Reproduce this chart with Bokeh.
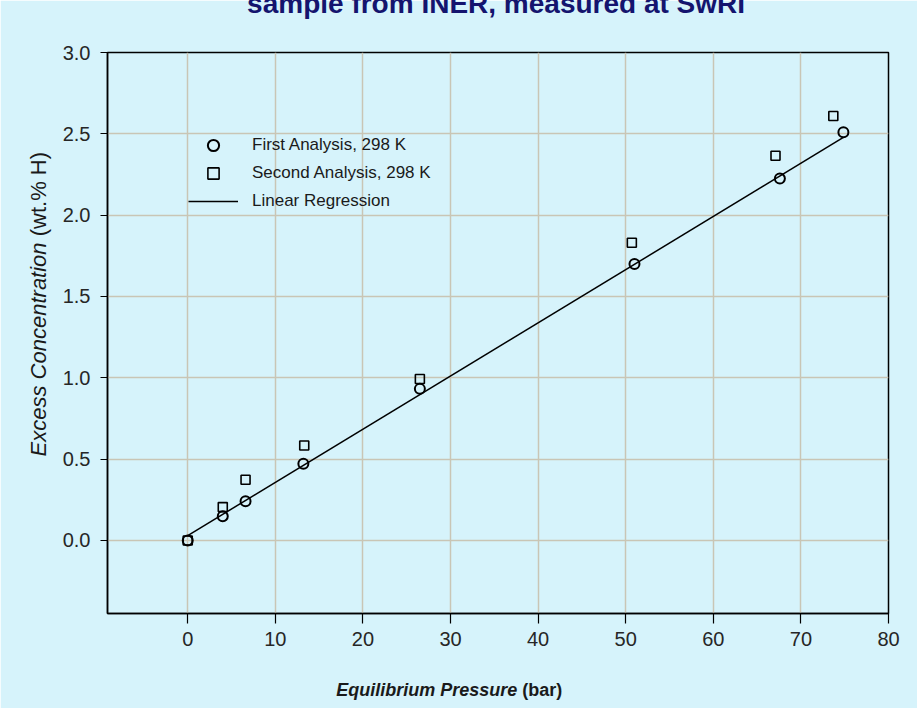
import math
from bokeh.plotting import figure
from bokeh.models import Label, Legend, LegendItem, FixedTicker
from bokeh.embed import file_html
from bokeh.resources import INLINE

# ---- data ----
pressure_first = [0.0, 4.0, 6.6, 13.2, 26.5, 51.0, 67.6, 74.85]
conc_first = [0.0, 0.149, 0.241, 0.471, 0.932, 1.70, 2.225, 2.51]
pressure_second = [0.0, 4.0, 6.6, 13.3, 26.5, 50.7, 67.1, 73.7]
conc_second = [0.0, 0.205, 0.373, 0.584, 0.993, 1.83, 2.365, 2.61]
fit_intercept = 0.03
fit_slope = 0.0327
x_ticks = [0, 10, 20, 30, 40, 50, 60, 70, 80]
y_ticks = [0.0, 0.5, 1.0, 1.5, 2.0, 2.5, 3.0]
title_text = "sample from INER, measured at SwRI"
legend_labels = ["First Analysis, 298 K", "Second Analysis, 298 K", "Linear Regression"]

BG = "#d6f3fb"
GRID = "#c9c5b5"
FONT = "Liberation Sans"

p = figure(width=917, height=708, output_backend="svg", toolbar_location=None,
           x_range=(-9.16, 80), y_range=(-0.449, 3.0),
           min_border_left=107, min_border_right=29, min_border_top=52, min_border_bottom=95)
p.background_fill_color = BG
p.border_fill_color = BG
p.outline_line_color = "black"
p.outline_line_width = 1.5

for ax in (p.xaxis[0], p.yaxis[0]):
    ax.axis_line_color = "black"
    ax.axis_line_width = 1.5
    ax.major_tick_line_color = "black"
    ax.major_tick_line_width = 1.2
    ax.minor_tick_line_color = None
    ax.major_tick_in = 0
    ax.major_label_text_font = FONT
    ax.major_label_text_font_size = "20px"
    ax.major_label_text_color = "#262626"

p.xaxis[0].ticker = FixedTicker(ticks=x_ticks)
p.yaxis[0].ticker = FixedTicker(ticks=y_ticks)
p.xaxis[0].major_tick_out = 10
p.yaxis[0].major_tick_out = 7
p.xaxis[0].major_label_standoff = 8
p.yaxis[0].major_label_standoff = 10
p.yaxis[0].major_label_overrides = {t: f"{t:.1f}" for t in y_ticks}

p.xgrid.ticker = FixedTicker(ticks=x_ticks)
p.ygrid.ticker = FixedTicker(ticks=y_ticks)
p.xgrid.grid_line_color = GRID
p.ygrid.grid_line_color = GRID
p.xgrid.grid_line_width = 1.5
p.ygrid.grid_line_width = 1.5

# regression line over the data's pressure span
x_fit = [min(pressure_first), max(pressure_first)]
y_fit = [fit_intercept + fit_slope * x for x in x_fit]
r_line = p.line(x_fit, y_fit, line_color="black", line_width=1.5)

r_sq = p.scatter(pressure_second, conc_second, marker="square", size=9,
                 line_color="black", line_width=1.6, fill_color=None)
r_c = p.scatter(pressure_first, conc_first, marker="circle", size=10,
                line_color="black", line_width=2.0, fill_color=None)

legend = Legend(items=[LegendItem(label=legend_labels[0], renderers=[r_c]),
                       LegendItem(label=legend_labels[1], renderers=[r_sq]),
                       LegendItem(label=legend_labels[2], renderers=[r_line])],
                location=(81, 398), orientation="vertical")
legend.background_fill_alpha = 0
legend.border_line_color = None
legend.padding = 0
legend.margin = 0
legend.spacing = 0
legend.glyph_width = 50
legend.glyph_height = 28
legend.label_height = 28
legend.label_standoff = 14
legend.label_text_font = FONT
legend.label_text_font_size = "17px"
legend.label_text_color = "#1a1a1a"
p.add_layout(legend)

# axis titles with mixed styles, placed in the side panels
ylab_x = -17.0
ylab_y = 1.87
p.add_layout(Label(x=ylab_x, y=ylab_y, text="Excess Concentration ", angle=math.pi / 2,
                   text_align="right", text_baseline="middle", text_font=FONT,
                   text_font_style="italic", text_font_size="22px", text_color="#1a1a1a"), "left")
p.add_layout(Label(x=ylab_x, y=ylab_y, text="(wt.% H)", angle=math.pi / 2,
                   text_align="left", text_baseline="middle", text_font=FONT,
                   text_font_size="22px", text_color="#1a1a1a"), "left")

xlab_x = 38.2
xlab_y = -0.92
p.add_layout(Label(x=xlab_x, y=xlab_y, text="Equilibrium Pressure ",
                   text_align="right", text_baseline="middle", text_font=FONT,
                   text_font_style="bold italic", text_font_size="18px", text_color="#1a1a1a"), "below")
p.add_layout(Label(x=xlab_x, y=xlab_y, text="(bar)",
                   text_align="left", text_baseline="middle", text_font=FONT,
                   text_font_style="bold", text_font_size="18px", text_color="#1a1a1a"), "below")

# title, partly cut at the top edge as in the source
p.add_layout(Label(x=35.2, y=3.30, text=title_text, text_align="center",
                   text_baseline="alphabetic", text_font=FONT, text_font_style="bold",
                   text_font_size="28px", text_color="#14146e"), "above")

open("out.html", "w").write(file_html(p, INLINE))
